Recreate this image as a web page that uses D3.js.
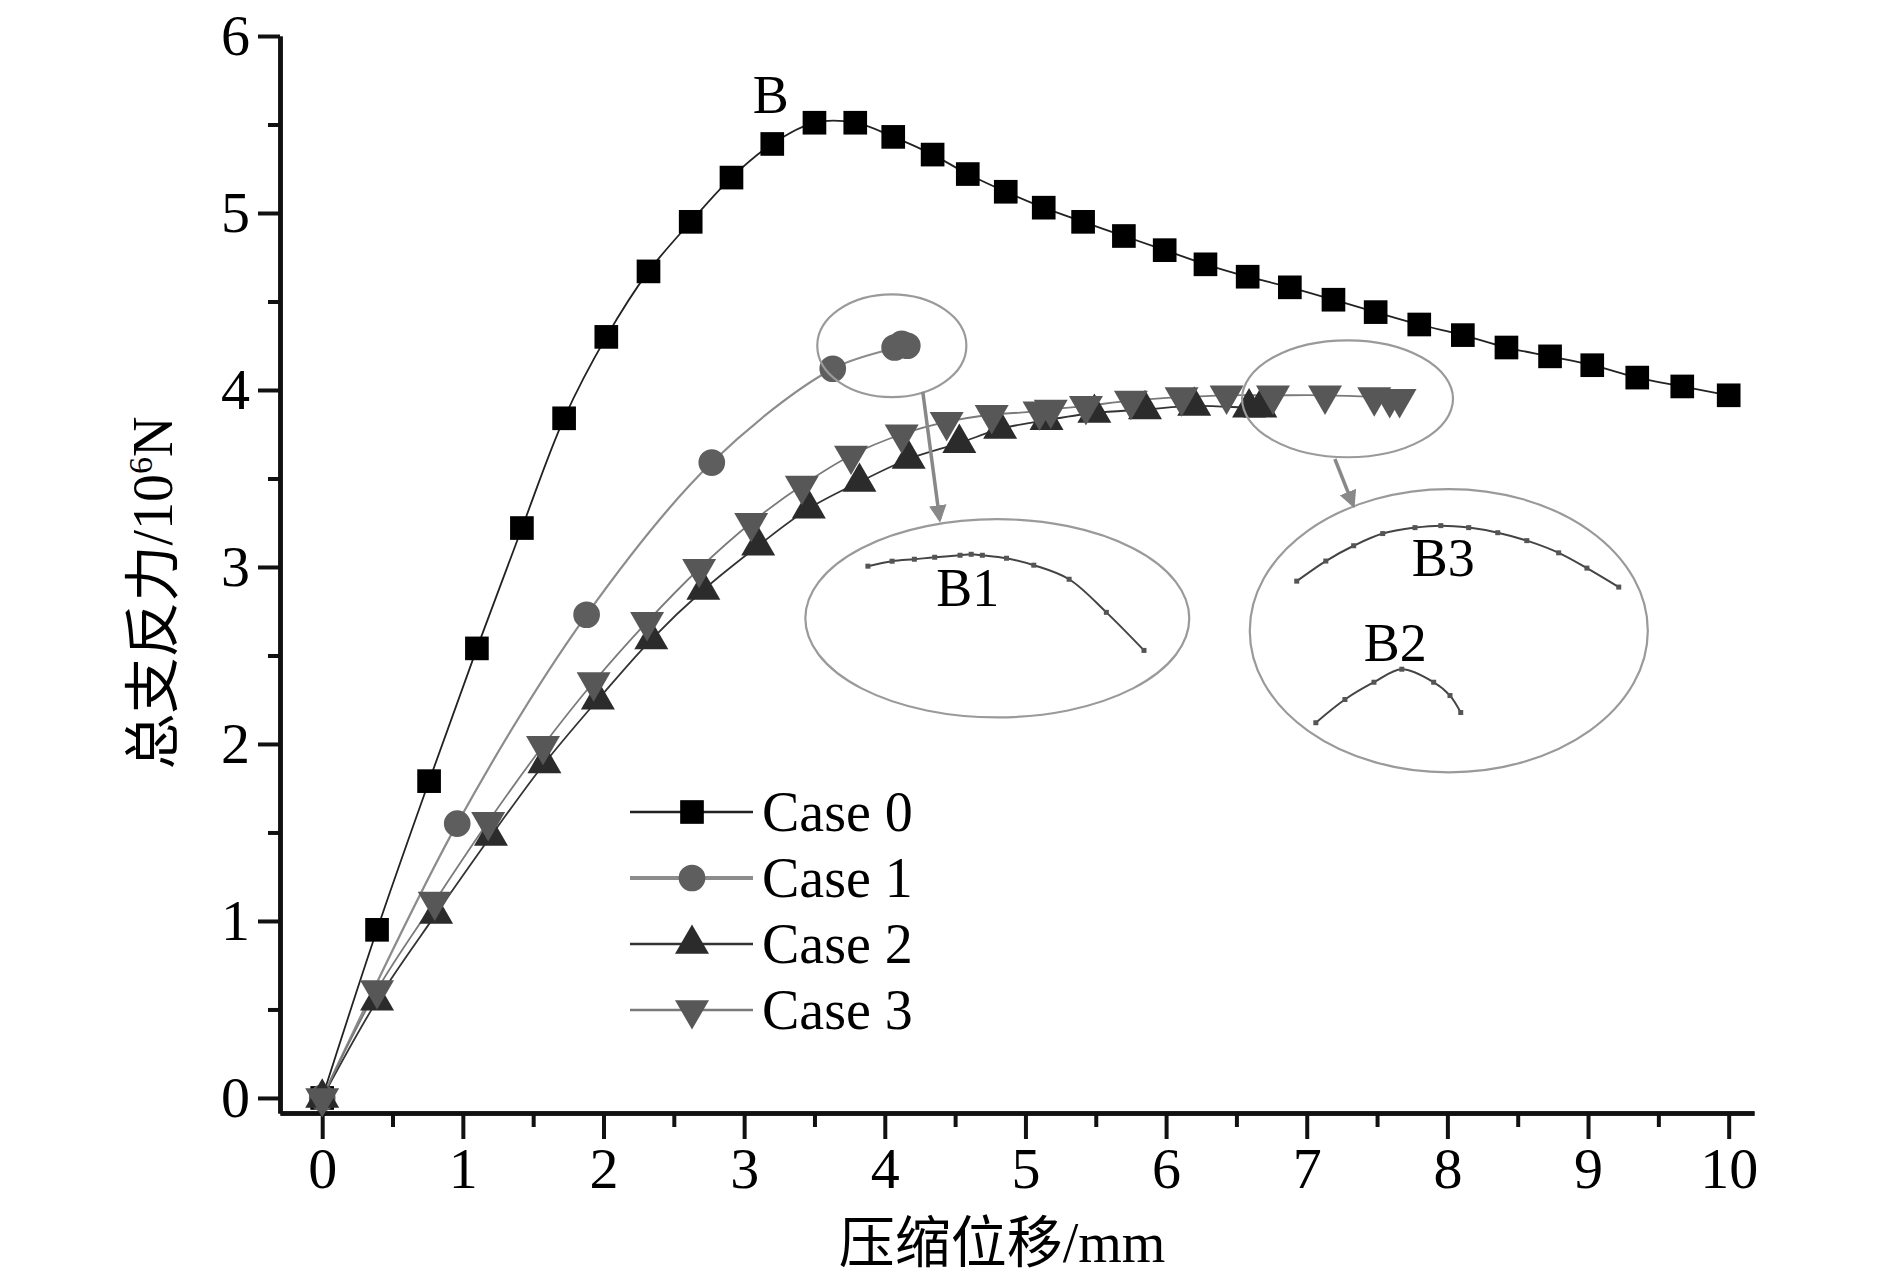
<!DOCTYPE html>
<html>
<head>
<meta charset="utf-8">
<script src="https://cdn.jsdelivr.net/npm/d3@7"></script>
<style>
  body { margin: 0; background: #fff; }
  text { font-family: "Liberation Serif", "Noto Sans CJK SC", serif; fill: #000; }
</style>
</head>
<body>
<div id="chart"></div>
<script>
//Define SVG area dimensions
var svgWidth = 1890;
var svgHeight = 1280;

// series data (x = 压缩位移 mm, y = 总支反力 10^6 N)
var case0X = [0, 0.39, 0.76, 1.10, 1.42, 1.72, 2.02, 2.32, 2.62, 2.91, 3.20, 3.50, 3.79, 4.06, 4.34, 4.59, 4.86, 5.13, 5.41, 5.70, 5.99, 6.28, 6.58, 6.88, 7.19, 7.49, 7.80, 8.11, 8.42, 8.73, 9.03, 9.35, 9.67, 10.00];
var case0Y = [0, 0.95, 1.79, 2.54, 3.22, 3.84, 4.30, 4.67, 4.95, 5.20, 5.39, 5.51, 5.51, 5.43, 5.33, 5.22, 5.12, 5.03, 4.95, 4.87, 4.79, 4.71, 4.64, 4.58, 4.51, 4.44, 4.37, 4.31, 4.24, 4.19, 4.14, 4.07, 4.02, 3.97];

var case1X = [0, 0.96, 1.88, 2.77, 3.63, 4.07, 4.12, 4.16];
var case1Y = [0, 1.55, 2.73, 3.59, 4.12, 4.24, 4.26, 4.25];

var case2X = [0, 0.39, 0.81, 1.20, 1.58, 1.96, 2.34, 2.71, 3.10, 3.46, 3.82, 4.17, 4.53, 4.82, 5.15, 5.49, 5.85, 6.20, 6.59, 6.67];
var case2Y = [0, 0.55, 1.04, 1.48, 1.89, 2.25, 2.59, 2.87, 3.12, 3.33, 3.48, 3.61, 3.70, 3.78, 3.83, 3.87, 3.89, 3.91, 3.90, 3.90];

var case3X = [0, 0.39, 0.80, 1.18, 1.57, 1.93, 2.31, 2.68, 3.05, 3.41, 3.76, 4.12, 4.44, 4.76, 5.10, 5.18, 5.43, 5.75, 6.11, 6.43, 6.76, 7.13, 7.48, 7.59, 7.66];
var case3Y = [0, 0.61, 1.11, 1.56, 1.99, 2.35, 2.69, 2.99, 3.25, 3.46, 3.63, 3.75, 3.82, 3.86, 3.88, 3.89, 3.91, 3.94, 3.96, 3.97, 3.97, 3.97, 3.96, 3.95, 3.95];

var seriesNames = ["Case 0", "Case 1", "Case 2", "Case 3"];

// tick labels
var xTicks = [0, 1, 2, 3, 4, 5, 6, 7, 8, 9, 10];
var yTicks = [0, 1, 2, 3, 4, 5, 6];

// zoomed detail curves (local 0-100 units inside each callout ellipse)
var b1X = [16.3, 22.6, 28.4, 33.7, 40.3, 43.2, 46.1, 52.4, 59.5, 68.7, 78.4, 88.2];
var b1Y = [76.3, 78.8, 79.8, 80.8, 81.8, 82.3, 81.8, 80.3, 76.8, 69.7, 53.0, 33.8];
var b3X = [11.8, 19.1, 26.1, 33.4, 41.5, 48.0, 55.0, 62.3, 69.6, 77.6, 84.7, 92.7];
var b3Y = [67.5, 74.6, 80.0, 84.3, 86.4, 87.1, 86.4, 84.6, 81.8, 77.5, 72.1, 65.4];
var b2X = [16.6, 23.9, 31.2, 38.2, 46.2, 50.3, 53.0];
var b2Y = [17.5, 25.7, 31.8, 36.4, 31.8, 27.1, 21.1];

//Select body, append SVG area to it, and set its dimensions
var svg = d3.select("#chart")
    .append("svg")
    .attr("width", svgWidth)
    .attr("height", svgHeight);

// scales
var xScale = d3.scaleLinear().domain([-0.3, 10.18]).range([280, 1754]);
var yScale = d3.scaleLinear().domain([-0.085, 6]).range([1113, 36]);

function zip(xs, ys) {
  return xs.map((d, i) => ({x: d, y: ys[i]}));
}

var series = [
  {name: seriesNames[0], data: zip(case0X, case0Y), line: "#222", lw: 1.8, fill: "#000", sym: d3.symbolSquare, size: 560, rot: 0},
  {name: seriesNames[1], data: zip(case1X, case1Y), line: "#8c8c8c", lw: 2.2, fill: "#5e5e5e", sym: d3.symbolCircle, size: 560, rot: 0},
  {name: seriesNames[2], data: zip(case2X, case2Y), line: "#333", lw: 1.8, fill: "#2b2b2b", sym: d3.symbolTriangle, size: 500, rot: 0},
  {name: seriesNames[3], data: zip(case3X, case3Y), line: "#7a7a7a", lw: 1.8, fill: "#575757", sym: d3.symbolTriangle, size: 500, rot: 180}
];

// axes
var bottomAxis = d3.axisBottom(xScale).tickValues(xTicks).tickSize(26).tickSizeOuter(0).tickPadding(8)
    .tickFormat(d3.format("d"));
var bottomMinor = d3.axisBottom(xScale).tickValues(d3.range(0.5, 10, 1)).tickSize(14).tickSizeOuter(0).tickFormat("");
var leftAxis = d3.axisLeft(yScale).tickValues(yTicks).tickSize(22).tickSizeOuter(0).tickPadding(8)
    .tickFormat(d3.format("d"));
var leftMinor = d3.axisLeft(yScale).tickValues(d3.range(0.5, 6, 1)).tickSize(12).tickSizeOuter(0).tickFormat("");

function styleAxis(g) {
  g.select(".domain").attr("stroke", "#111").attr("stroke-width", 4.5);
  g.selectAll(".tick line").attr("stroke", "#111").attr("stroke-width", 4);
  g.selectAll(".tick text").attr("font-size", 58).attr("font-family", "Liberation Serif").attr("fill", "#000");
}

svg.append("g").attr("transform", `translate(0, ${yScale.range()[0]})`).call(bottomMinor).call(styleAxis);
svg.append("g").attr("transform", `translate(0, ${yScale.range()[0]})`).call(bottomAxis).call(styleAxis);
svg.append("g").attr("transform", `translate(${xScale.range()[0]}, 0)`).call(leftMinor).call(styleAxis);
svg.append("g").attr("transform", `translate(${xScale.range()[0]}, 0)`).call(leftAxis).call(styleAxis);

// axis titles
svg.append("text")
  .attr("x", 1002)
  .attr("y", 1262)
  .attr("text-anchor", "middle")
  .attr("font-size", 56)
  .text("压缩位移/mm");

var yTitle = svg.append("text")
  .attr("transform", "translate(172, 593) rotate(-90)")
  .attr("text-anchor", "middle")
  .attr("font-size", 56);
yTitle.append("tspan").text("总支反力/10");
yTitle.append("tspan").attr("font-size", 34).attr("dy", -20).text("6");
yTitle.append("tspan").attr("dy", 20).text("N");

// curves
var lineGen = d3.line()
  .x(d => xScale(d.x))
  .y(d => yScale(d.y))
  .curve(d3.curveCatmullRom.alpha(0.5));

var plot = svg.append("g");

series.forEach(function(s) {
  plot.append("path")
    .datum(s.data)
    .attr("fill", "none")
    .attr("stroke", s.line)
    .attr("stroke-width", s.lw)
    .attr("d", lineGen);
});

series.forEach(function(s) {
  plot.selectAll(null)
    .data(s.data)
    .enter()
    .append("path")
    .attr("d", d3.symbol().type(s.sym).size(s.size))
    .attr("fill", s.fill)
    .attr("transform", d => `translate(${xScale(d.x)}, ${yScale(d.y)}) rotate(${s.rot})`);
});

// callout ellipses (centre and radii in data units)
var callouts = [
  {cx: 4.05, cy: 4.25, rx: 0.53, ry: 0.29},
  {cx: 7.29, cy: 3.95, rx: 0.75, ry: 0.33},
  {cx: 4.80, cy: 2.71, rx: 1.365, ry: 0.56},
  {cx: 8.01, cy: 2.64, rx: 1.415, ry: 0.80}
];
var pxX = xScale(1) - xScale(0);
var pxY = yScale(0) - yScale(1);

svg.append("g").selectAll("ellipse")
  .data(callouts)
  .enter()
  .append("ellipse")
  .attr("cx", d => xScale(d.cx))
  .attr("cy", d => yScale(d.cy))
  .attr("rx", d => d.rx * pxX)
  .attr("ry", d => d.ry * pxY)
  .attr("fill", "none")
  .attr("stroke", "#9a9a9a")
  .attr("stroke-width", 2.2);

// arrows
svg.append("defs").append("marker")
  .attr("id", "head")
  .attr("viewBox", "0 0 10 10")
  .attr("refX", 8).attr("refY", 5)
  .attr("markerWidth", 5).attr("markerHeight", 5)
  .attr("orient", "auto")
  .append("path")
  .attr("d", "M0,0 L10,5 L0,10 z")
  .attr("fill", "#888");

var arrows = [
  {x1: 4.27, y1: 3.99, x2: 4.39, y2: 3.27},
  {x1: 7.20, y1: 3.61, x2: 7.33, y2: 3.35}
];
svg.append("g").selectAll("line")
  .data(arrows)
  .enter()
  .append("line")
  .attr("x1", d => xScale(d.x1)).attr("y1", d => yScale(d.y1))
  .attr("x2", d => xScale(d.x2)).attr("y2", d => yScale(d.y2))
  .attr("stroke", "#888")
  .attr("stroke-width", 3.5)
  .attr("marker-end", "url(#head)");

// zoomed detail curves inside the big ellipses
function drawInset(box, xs, ys) {
  var ix = d3.scaleLinear().domain([0, 100]).range([xScale(box.cx - box.rx), xScale(box.cx + box.rx)]);
  var iy = d3.scaleLinear().domain([0, 100]).range([yScale(box.cy - box.ry), yScale(box.cy + box.ry)]);
  var pts = zip(xs, ys);
  var g = svg.append("g");
  g.append("path")
    .datum(pts)
    .attr("fill", "none")
    .attr("stroke", "#444")
    .attr("stroke-width", 2)
    .attr("d", d3.line().x(d => ix(d.x)).y(d => iy(d.y)).curve(d3.curveCatmullRom.alpha(0.5)));
  g.selectAll("rect")
    .data(pts)
    .enter()
    .append("rect")
    .attr("x", d => ix(d.x) - 2.5)
    .attr("y", d => iy(d.y) - 2.5)
    .attr("width", 5)
    .attr("height", 5)
    .attr("fill", "#555");
}
drawInset(callouts[2], b1X, b1Y);
drawInset(callouts[3], b3X, b3Y);
drawInset(callouts[3], b2X, b2Y);

// point labels
var labels = [
  {t: "B", x: 3.19, y: 5.565},
  {t: "B1", x: 4.59, y: 2.78},
  {t: "B3", x: 7.97, y: 2.95},
  {t: "B2", x: 7.63, y: 2.47}
];
svg.append("g").selectAll("text")
  .data(labels)
  .enter()
  .append("text")
  .attr("x", d => xScale(d.x))
  .attr("y", d => yScale(d.y))
  .attr("text-anchor", "middle")
  .attr("font-size", 54)
  .text(d => d.t);

// legend
var legend = svg.append("g").attr("transform", "translate(630, 812)");
series.forEach(function(s, i) {
  var row = legend.append("g").attr("transform", `translate(0, ${i * 66})`);
  row.append("line")
    .attr("x1", 0).attr("x2", 123)
    .attr("stroke", s.line)
    .attr("stroke-width", i === 1 ? 4 : 2.6);
  row.append("path")
    .attr("d", d3.symbol().type(s.sym).size(s.size))
    .attr("fill", s.fill)
    .attr("transform", `translate(62, 0) rotate(${s.rot})`);
  row.append("text")
    .attr("x", 132)
    .attr("y", 19)
    .attr("font-size", 56)
    .text(s.name);
});
</script>
</body>
</html>
